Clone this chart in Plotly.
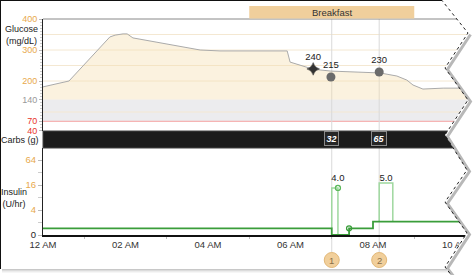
import plotly.graph_objects as go

# ---------------- data ----------------
glucose_hours = [0, 0.63, 1.62, 1.75, 1.94, 2.04, 2.18, 2.84, 3.81, 4.29, 4.53, 5.92, 5.99, 6.40, 6.55,
                 6.98, 8.17, 8.58, 8.82, 8.97, 9.21, 9.70, 10.5]
glucose_mgdl = [181, 200, 342, 348, 352, 352, 339, 323, 300, 297, 297, 297, 261, 245, 238,
                232, 226, 216, 203, 187, 174, 177, 177]

sensor_mark_hour = [6.55]
sensor_mark_value = [239]
sensor_mark_label = ["240"]

meter_hours = [6.98, 8.15]
meter_values = [213, 229]
meter_labels = ["215", "230"]

carb_hours = [7.0, 8.15]
carb_grams = ["32", "65"]
event_numbers = ["1", "2"]

meal_name = "Breakfast"
meal_start = 5.0
meal_end = 9.0

# insulin (U/hr on display scale; bottom of the scale = "0")
basal_hours = [0, 7.0, 7.42, 8.0, 10.5]
basal_rates = [1.45, 1.0, 1.45, 2.09, 2.09]
resume_hour = [7.42]
resume_rate = [1.45]

bolus_start = [7.0, 8.15]
bolus_end = [7.15, 8.48]
bolus_base_before = [1.45, 2.09]
bolus_base_after = [1.0, 2.09]
bolus_height = [13.6, 17.9]
bolus_labels = ["4.0", "5.0"]

x_tick_hours = [0, 2, 4, 6, 8, 10]
x_tick_labels = ["12 AM", "02 AM", "04 AM", "06 AM", "08 AM", "10 AM"]

glucose_ticks = [400, 300, 200, 140, 70, 40]
insulin_ticks = [64, 16, 4, 1]
insulin_tick_text = ["64", "16", "4", "0"]

# ---------------- styling ----------------
FONT = "Liberation Sans, Arial, sans-serif"
ORANGE = "#E8A94C"
RED = "#E8332B"
W, H = 476, 275
ML, MR, MT, MB = 43, 0, 19, 40
PW, PH = W - ML - MR, H - MT - MB
PX_PER_HOUR = 41.25


def px(xp):
    return (xp - ML) / PW


def py(yp):
    return (MT + PH - yp) / PH


gl_dom = [py(130.6), 1.0]
cb_dom = [py(148), py(131)]
in_dom = [0.0, py(148)]

fig = go.Figure()

# glucose baseline (140) and fill
fig.add_trace(go.Scatter(x=[glucose_hours[0], glucose_hours[-1]], y=[140, 140], mode="lines",
                         line=dict(width=0), hoverinfo="skip", xaxis="x", yaxis="y"))
fig.add_trace(go.Scatter(x=glucose_hours, y=glucose_mgdl, mode="lines", fill="tonexty",
                         fillcolor="rgba(245,222,175,0.40)", line=dict(color="#aaaaaa", width=1),
                         xaxis="x", yaxis="y"))
fig.add_trace(go.Scatter(x=sensor_mark_hour, y=sensor_mark_value, mode="markers+text",
                         text=sensor_mark_label, textposition="top center",
                         textfont=dict(size=9.5, color="#222", family=FONT),
                         marker=dict(symbol="star-diamond", size=9, color="#333",
                                     line=dict(color="#333", width=0.5)),
                         xaxis="x", yaxis="y", cliponaxis=False))
fig.add_trace(go.Scatter(x=meter_hours, y=meter_values, mode="markers+text",
                         text=meter_labels, textposition="top center",
                         textfont=dict(size=9.5, color="#222", family=FONT),
                         marker=dict(symbol="circle", size=9, color="#6b6b6b"),
                         xaxis="x", yaxis="y", cliponaxis=False))

# insulin
for s, e, b0, b1, h in zip(bolus_start, bolus_end, bolus_base_before, bolus_base_after, bolus_height):
    fig.add_trace(go.Scatter(x=[s, s, e, e], y=[b0, h, h, b1], mode="lines",
                             line=dict(color="#9fd89f", width=1.5), xaxis="x", yaxis="y3"))
fig.add_trace(go.Scatter(x=basal_hours, y=basal_rates, mode="lines", line_shape="hv",
                         line=dict(color="#3a9d3a", width=1.8), xaxis="x", yaxis="y3", cliponaxis=False))
fig.add_trace(go.Scatter(x=resume_hour, y=resume_rate, mode="markers",
                         marker=dict(symbol="circle-open", size=5, color="#3a9d3a", line=dict(width=1.3)),
                         xaxis="x", yaxis="y3"))
fig.add_trace(go.Scatter(x=[bolus_end[0]], y=[bolus_height[0]], mode="markers+text",
                         text=[bolus_labels[0]], textposition="top center",
                         textfont=dict(size=9.5, color="#222", family=FONT),
                         marker=dict(symbol="circle-open", size=5, color="#5cb85c", line=dict(width=1.3)),
                         xaxis="x", yaxis="y3", cliponaxis=False))
fig.add_trace(go.Scatter(x=[(bolus_start[1] + bolus_end[1]) / 2], y=[bolus_height[1]], mode="text",
                         text=[bolus_labels[1]], textposition="top center",
                         textfont=dict(size=9.5, color="#222", family=FONT),
                         xaxis="x", yaxis="y3", cliponaxis=False))

shapes = []
# gray target band and 70 line
shapes.append(dict(type="rect", xref="paper", yref="y", x0=0, x1=1, y0=70, y1=140,
                   fillcolor="#ececee", line=dict(width=0), layer="below"))
for g in [100, 200, 250, 300, 350]:
    shapes.append(dict(type="line", xref="paper", yref="y", x0=0, x1=1, y0=g, y1=g,
                       line=dict(color="#f4e8d2", width=1), layer="below"))
shapes.append(dict(type="line", xref="paper", yref="y", x0=0, x1=1, y0=70, y1=70,
                   line=dict(color="#f5a3a3", width=1), layer="below"))
# vertical event lines
for c in carb_hours:
    shapes.append(dict(type="line", xref="x", yref="paper", x0=c, x1=c, y0=py(253), y1=1,
                       line=dict(color="#d9d9d9", width=1), layer="below"))
# carbs band
shapes.append(dict(type="rect", xref="paper", yref="paper", x0=0, x1=1, y0=cb_dom[0], y1=cb_dom[1],
                   fillcolor="#1b1b1b", line=dict(color="#444", width=1), layer="above"))
# glucose top border
shapes.append(dict(type="line", xref="paper", yref="paper", x0=0, x1=1, y0=1, y1=1,
                   line=dict(color="#888", width=1), layer="above"))
# meal band
shapes.append(dict(type="rect", xref="x", yref="paper", x0=meal_start, x1=meal_end, y0=1.0 + 0.5 / PH,
                   y1=py(6), fillcolor="#f0cf9c", line=dict(width=0), layer="above"))
# numbered circles
for c in carb_hours:
    shapes.append(dict(type="circle", xref="x", yref="paper", xsizemode="pixel", ysizemode="pixel",
                       xanchor=c, yanchor=py(260), x0=-7.5, x1=7.5, y0=-7.5, y1=7.5,
                       fillcolor="#f1cf9b", line=dict(color="#e2b878", width=1), layer="above"))

# torn right edge
edge = [(442, -1), (442, 0.5), (468, 33), (445, 68), (468, 100), (445, 135), (467, 170),
        (445, 202), (467, 233), (445, 267), (452, 276)]
poly = "M " + " L ".join(f"{px(a):.5f},{py(b):.5f}" for a, b in edge)
poly_fill = poly + f" L {px(480):.5f},{py(276):.5f} L {px(480):.5f},{py(-1):.5f} Z"
shapes.append(dict(type="path", xref="paper", yref="paper", path=poly_fill,
                   fillcolor="white", line=dict(width=0), layer="above"))
shadow = "M " + " L ".join(f"{px(a + 2.5):.5f},{py(b + 1.5):.5f}" for a, b in edge[2:])
shapes.append(dict(type="path", xref="paper", yref="paper", path=shadow,
                   line=dict(color="rgba(0,0,0,0.28)", width=3), layer="above"))
shapes.append(dict(type="path", xref="paper", yref="paper", path=poly,
                   line=dict(color="#222", width=1, dash="dot"), layer="above"))
# page border / shadow
shapes.append(dict(type="line", xref="paper", yref="paper", x0=px(0), x1=px(442), y0=py(0.5), y1=py(0.5),
                   line=dict(color="#111", width=1), layer="above"))
shapes.append(dict(type="line", xref="paper", yref="paper", x0=px(0.5), x1=px(0.5), y0=py(0), y1=py(269),
                   line=dict(color="#111", width=1), layer="above"))
for i, col in enumerate(["#c8c8c8", "#dcdcdc", "#ececec", "#f6f6f6"]):
    shapes.append(dict(type="line", xref="paper", yref="paper", x0=px(2), x1=px(448),
                       y0=py(269.5 + i), y1=py(269.5 + i), line=dict(color=col, width=1), layer="above"))

annotations = []
annotations.append(dict(text=meal_name, x=(meal_start + meal_end) / 2, y=py(12.5), xref="x", yref="paper",
                        showarrow=False, font=dict(size=9.5, color="#333", family=FONT),
                        xanchor="center", yanchor="middle"))
for c, g in zip(carb_hours, carb_grams):
    annotations.append(dict(text=f"<b><i>{g}</i></b>", x=c, y=py(138.5), xref="x", yref="paper",
                            showarrow=False, font=dict(size=9, color="white", family=FONT),
                            bgcolor="#262626", bordercolor="#8a8a8a", borderwidth=1, borderpad=1.5,
                            xanchor="center", yanchor="middle"))
for c, n in zip(carb_hours, event_numbers):
    annotations.append(dict(text=n, x=c, y=py(260), xref="x", yref="paper", showarrow=False,
                            font=dict(size=9.5, color="#8a7048", family=FONT),
                            xanchor="center", yanchor="middle"))
annotations.append(dict(text="Glucose<br>(mg/dL)", x=px(21), y=py(34.5), xref="paper", yref="paper",
                        showarrow=False, font=dict(size=9, color="#222", family=FONT),
                        xanchor="center", yanchor="middle", align="center"))
annotations.append(dict(text="Carbs (g)", x=px(19.5), y=py(139.5), xref="paper", yref="paper",
                        showarrow=False, font=dict(size=9, color="#222", family=FONT),
                        xanchor="center", yanchor="middle"))
annotations.append(dict(text="Insulin<br>(U/hr)", x=px(13.5), y=py(197.5), xref="paper", yref="paper",
                        showarrow=False, font=dict(size=9, color="#222", family=FONT),
                        xanchor="center", yanchor="middle", align="center"))


def colored(v):
    if v >= 200:
        return f'<span style="color:{ORANGE}">{v}</span>'
    if v >= 100:
        return f'<span style="color:#999999">{v}</span>'
    return f'<span style="color:{RED}">{v}</span>'


ins_text = [f'<span style="color:{ORANGE}">{t}</span>' if t != "0" else '<span style="color:#222">0</span>'
            for t in insulin_tick_text]

x_range = [0, PW / PX_PER_HOUR]
fig.update_layout(
    width=W, height=H, margin=dict(l=ML, r=MR, t=MT, b=MB),
    paper_bgcolor="white", plot_bgcolor="white", showlegend=False,
    font=dict(family=FONT, size=9, color="#333"),
    xaxis=dict(domain=[0, 1], range=x_range, anchor="y3", tickvals=x_tick_hours, ticktext=x_tick_labels,
               showgrid=False, zeroline=False, showline=True, linecolor="#111", linewidth=1.5,
               ticks="", tickfont=dict(size=9.5, color="#333"),
               minor=dict(tickvals=[1, 3, 5, 7, 9], ticks="outside", ticklen=2, tickcolor="#bbb")),
    yaxis=dict(domain=gl_dom, range=[40, 400], tickvals=glucose_ticks,
               ticktext=[colored(v) for v in glucose_ticks], showgrid=False, zeroline=False,
               showline=True, linecolor="#222", linewidth=1, ticks="outside", ticklen=3, tickcolor="#bbb",
               tickfont=dict(size=9),
               minor=dict(tickvals=list(range(50, 400, 10)), ticks="outside", ticklen=2, tickcolor="#ccc")),
    yaxis2=dict(domain=cb_dom, range=[0, 1], showticklabels=False, showgrid=False, zeroline=False,
                showline=True, linecolor="#222"),
    yaxis3=dict(domain=in_dom, type="log", range=[0, PH * (in_dom[1]) / 41.5], tickvals=insulin_ticks,
                ticktext=ins_text, showgrid=False, zeroline=False, showline=True, linecolor="#222",
                linewidth=1, ticks="outside", ticklen=4, tickcolor="#bbb", tickfont=dict(size=9.5),
                minor=dict(tickvals=[2, 8, 32], ticks="outside", ticklen=4, tickcolor="#ccc")),
    shapes=shapes, annotations=annotations,
)

fig.write_html("out.html")
